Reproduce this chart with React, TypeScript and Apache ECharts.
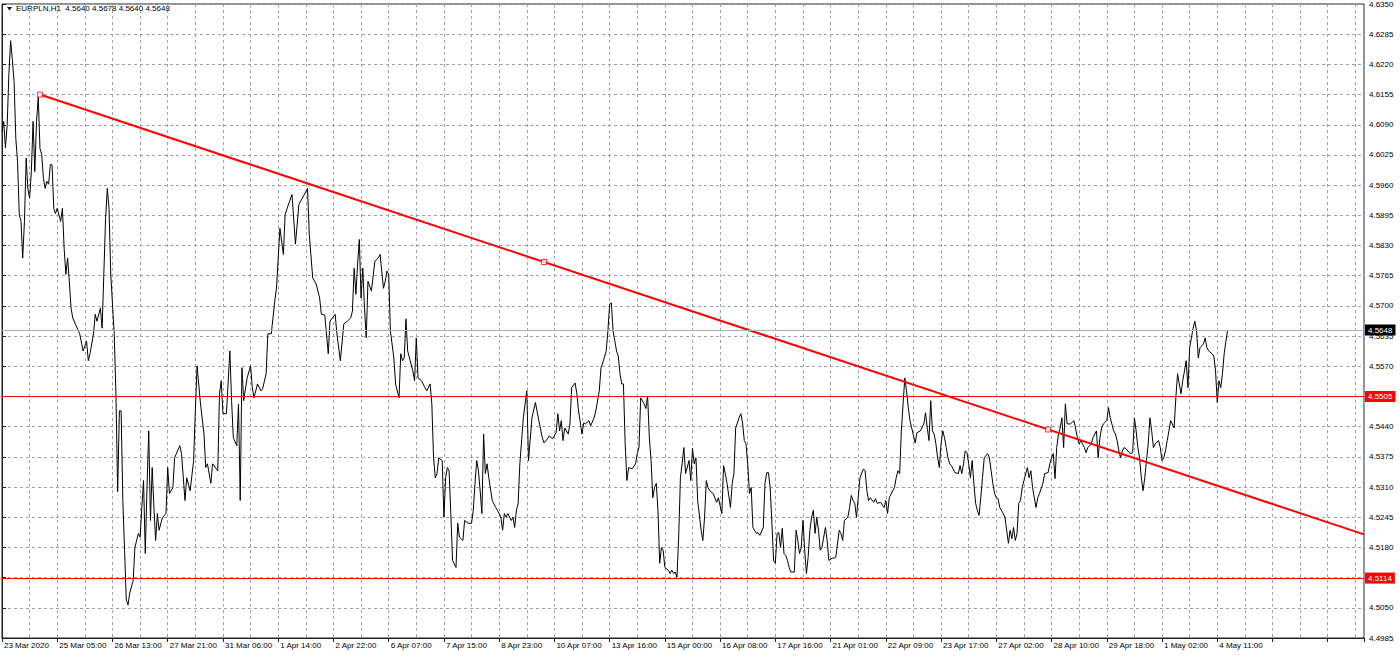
import React, { useEffect, useRef } from "react";
import * as echarts from "echarts";

// ---- data ----
const xLabels = [
  "23 Mar 2020", "25 Mar 05:00", "26 Mar 13:00", "27 Mar 21:00", "31 Mar 06:00", "1 Apr 14:00",
  "2 Apr 22:00", "6 Apr 07:00", "7 Apr 15:00", "8 Apr 23:00", "10 Apr 07:00", "13 Apr 16:00",
  "15 Apr 00:00", "16 Apr 08:00", "17 Apr 16:00", "21 Apr 01:00", "22 Apr 09:00", "23 Apr 17:00",
  "27 Apr 02:00", "28 Apr 10:00", "29 Apr 18:00", "1 May 02:00", "4 May 11:00",
];
const barsPerLabel = 32;
const barsPerGrid = 16;
const xMax = 789;
const yMin = 4.4985;
const yMax = 4.635;
const yStep = 0.0065;

const header = "EURPLN,H1  4.5640 4.5678 4.5640 4.5648";

// [bar index (H1), close]
const closesMarch: [number, number][] = [
  [0,4.6075],[1,4.6097],[2,4.6040],[3,4.6090],[4,4.6200],[5,4.6271],[6,4.6230],[7,4.6183],[8,4.6061],[9,4.6011],
  [10,4.5897],[11,4.5882],[12,4.5803],[13,4.5882],[14,4.6018],[15,4.5952],[16,4.5932],[17,4.5989],[18,4.6097],[19,4.5989],
  [20,4.6097],[21,4.6150],[22,4.6039],[23,4.6026],[24,4.5974],[25,4.5953],[26,4.5968],[27,4.5962],[28,4.6004],[29,4.6004],
  [30,4.5910],[31,4.5899],[32,4.5910],[34,4.5882],[35,4.5910],[36,4.5824],[37,4.5768],[38,4.5803],[39,4.5753],[40,4.5695],
  [41,4.5674],[45,4.5640],[47,4.5603],[49,4.5624],[50,4.5582],[51,4.5597],[53,4.5640],[54,4.5682],[55,4.5667],[57,4.5695],
  [58,4.5652],[60,4.5888],[61,4.5953],[62,4.5910],[63,4.5768],[64,4.5704],[65,4.5640],[66,4.5511],[67,4.5300],[68,4.5474],
  [69,4.5474],[70,4.5281],[71,4.5174],[72,4.5067],[73,4.5056],[74,4.5082],[76,4.5109],[77,4.5180],[79,4.5210],[80,4.5202],
  [81,4.5266],[82,4.5324],[83,4.5167],[84,4.5309],[85,4.5431],[86,4.5238],[87,4.5352],[88,4.5266],[89,4.5195],[90,4.5253],
  [91,4.5217],[93,4.5245],[95,4.5253],[96,4.5352],[97,4.5296],[99,4.5309],[100,4.5373],[103,4.5399],[104,4.5382],[106,4.5281],
  [107,4.5330],[109,4.5302],[111,4.5367],[112,4.5474],[113,4.5571],[115,4.5489],[117,4.5424],[118,4.5352],[119,4.5360],[121,4.5318],
  [122,4.5360],[125,4.5345],[126,4.5511],[127,4.5539],[128,4.5468],[130,4.5468],[132,4.5603],[133,4.5496],[134,4.5416],[136,4.5399],
  [137,4.5489],[138,4.5281],[139,4.5567],[140,4.5496],[142,4.5545],[144,4.5571],[145,4.5524],[146,4.5502],[148,4.5532],[150,4.5517],
  [151,4.5522],[153,4.5554],[154,4.5640],[156,4.5640],[158,4.5710],[159,4.5738],[161,4.5867],[163,4.5811],[164,4.5897],[166,4.5919],
  [168,4.5940],[170,4.5833],[172,4.5919],[174,4.5932],[177,4.5953],[178,4.5854],[180,4.5760],[182,4.5747],[184,4.5717],[185,4.5682],
  [187,4.5680],[189,4.5597],[190,4.5667],[193,4.5682],[194,4.5640],[196,4.5582],[198,4.5661],
];
const closesEarlyApril: [number, number][] = [
  [200,4.5667],[202,4.5674],[203,4.5689],[204,4.5781],[205,4.5725],[206,4.5790],[207,4.5843],[208,4.5717],[209,4.5781],[210,4.5695],
  [211,4.5631],[212,4.5753],[214,4.5732],[216,4.5796],[218,4.5803],[219,4.5811],[221,4.5738],[222,4.5753],[223,4.5775],[224,4.5768],
  [225,4.5646],[227,4.5588],[228,4.5532],[229,4.5517],[230,4.5502],[231,4.5597],[232,4.5582],[233,4.5588],[234,4.5672],[235,4.5603],
  [238,4.5560],[239,4.5539],[240,4.5631],[241,4.5545],[243,4.5539],[245,4.5524],[246,4.5517],[248,4.5532],[249,4.5489],[250,4.5373],
  [251,4.5330],[252,4.5339],[253,4.5373],[255,4.5367],[256,4.5245],[257,4.5330],[258,4.5352],[259,4.5345],[260,4.5253],[261,4.5152],
  [263,4.5137],[264,4.5232],[265,4.5202],[267,4.5195],[268,4.5238],[270,4.5232],[272,4.5232],[273,4.5260],[274,4.5318],[275,4.5367],
  [276,4.5345],[277,4.5302],[278,4.5253],[279,4.5424],[280,4.5339],[281,4.5360],[282,4.5330],[284,4.5281],[286,4.5266],[287,4.5260],
  [289,4.5245],[290,4.5217],[291,4.5253],[292,4.5245],[293,4.5253],[295,4.5238],[296,4.5245],[297,4.5223],[298,4.5260],[299,4.5275],
  [300,4.5360],[302,4.5459],[304,4.5517],[305,4.5367],[307,4.5459],[309,4.5492],[311,4.5453],[313,4.5416],[314,4.5405],[316,4.5414],
  [317,4.5420],[319,4.5414],[321,4.5427],[322,4.5468],[323,4.5431],[324,4.5453],[325,4.5410],[326,4.5437],[328,4.5424],[329,4.5446],
  [330,4.5524],[332,4.5534],[333,4.5511],[334,4.5474],[336,4.5424],[337,4.5448],[338,4.5446],[340,4.5453],[341,4.5442],[343,4.5459],
  [344,4.5474],[346,4.5517],[347,4.5567],[348,4.5577],[350,4.5603],[351,4.5646],[352,4.5704],[353,4.5706],[354,4.5646],[356,4.5603],
  [357,4.5592],[358,4.5554],[359,4.5532],[360,4.5532],[361,4.5403],[362,4.5324],[363,4.5352],[365,4.5349],[367,4.5360],[368,4.5382],
  [369,4.5395],[370,4.5502],[372,4.5489],[373,4.5479],[374,4.5506],[375,4.5416],[376,4.5367],[377,4.5287],[378,4.5309],[379,4.5318],
  [380,4.5260],[381,4.5146],[382,4.5180],[383,4.5174],[384,4.5137],[386,4.5131],[387,4.5124],[388,4.5131],[389,4.5124],[390,4.5127],
  [391,4.5116],[392,4.5202],[393,4.5330],[394,4.5360],[395,4.5395],[396,4.5339],[398,4.5367],[399,4.5324],[400,4.5393],[401,4.5360],
  [402,4.5373],[403,4.5281],[405,4.5217],[406,4.5195],[407,4.5245],[408,4.5324],[409,4.5309],[410,4.5302],[412,4.5296],[414,4.5277],
  [415,4.5287],[417,4.5253],[418,4.5356],[419,4.5339],[420,4.5318],
];
const closesLateApril: [number, number][] = [
  [422,4.5266],[423,4.5318],[424,4.5339],[425,4.5437],[427,4.5459],[428,4.5468],[429,4.5448],[430,4.5410],[431,4.5403],[432,4.5360],
  [433,4.5296],[434,4.5309],[435,4.5223],[437,4.5210],[438,4.5212],[439,4.5206],[441,4.5223],[442,4.5318],[443,4.5341],[444,4.5341],
  [445,4.5309],[446,4.5232],[447,4.5152],[448,4.5146],[449,4.5210],[450,4.5212],[451,4.5180],[452,4.5221],[453,4.5167],[454,4.5163],
  [455,4.5152],[456,4.5137],[457,4.5127],[459,4.5127],[460,4.5217],[461,4.5195],[462,4.5167],[463,4.5180],[464,4.5238],[465,4.5174],
  [466,4.5124],[467,4.5159],[468,4.5217],[469,4.5245],[470,4.5260],[471,4.5210],[472,4.5245],[473,4.5217],[474,4.5174],[475,4.5180],
  [476,4.5202],[477,4.5223],[478,4.5195],[479,4.5152],[481,4.5157],[482,4.5157],[483,4.5159],[485,4.5217],[486,4.5210],[487,4.5195],
  [488,4.5238],[490,4.5245],[491,4.5266],[492,4.5292],[493,4.5281],[494,4.5275],[495,4.5245],[496,4.5287],[497,4.5330],[499,4.5349],
  [500,4.5345],[501,4.5302],[502,4.5281],[503,4.5287],[505,4.5277],[506,4.5285],[507,4.5275],[509,4.5277],[511,4.5266],[512,4.5281],
  [513,4.5253],[514,4.5287],[516,4.5302],[517,4.5309],[518,4.5330],[519,4.5345],[520,4.5339],[521,4.5431],[522,4.5489],[523,4.5545],
  [524,4.5517],[525,4.5481],[526,4.5453],[527,4.5437],[529,4.5405],[530,4.5427],[532,4.5431],[534,4.5446],[535,4.5470],[536,4.5437],
  [537,4.5410],[538,4.5496],[539,4.5431],[540,4.5424],[541,4.5403],[542,4.5373],[543,4.5352],[544,4.5403],[545,4.5431],[546,4.5416],
  [547,4.5395],[548,4.5373],[549,4.5360],[550,4.5356],[551,4.5349],[552,4.5341],[554,4.5339],[555,4.5356],[556,4.5339],[557,4.5360],
  [558,4.5388],[559,4.5384],[560,4.5360],[561,4.5330],[562,4.5367],[563,4.5318],[564,4.5275],[565,4.5260],[566,4.5249],[567,4.5287],
  [568,4.5330],[569,4.5373],[571,4.5382],[572,4.5373],[573,4.5345],[574,4.5318],[575,4.5296],[576,4.5287],[577,4.5285],[578,4.5266],
  [580,4.5253],[581,4.5245],[582,4.5217],[583,4.5189],[584,4.5217],[585,4.5199],[586,4.5223],[587,4.5195],[588,4.5210],[589,4.5275],
  [590,4.5281],[591,4.5309],[592,4.5324],[594,4.5352],[595,4.5330],[596,4.5345],[597,4.5309],[598,4.5287],[599,4.5266],[600,4.5287],
  [601,4.5296],[603,4.5318],[604,4.5339],[606,4.5341],[607,4.5360],[608,4.5373],[609,4.5382],[610,4.5328],
];
const closesMay: [number, number][] = [
  [611,4.5395],[612,4.5424],[613,4.5437],[614,4.5459],[615,4.5395],[616,4.5489],[617,4.5446],[619,4.5446],[621,4.5453],[623,4.5416],
  [624,4.5403],[625,4.5410],[627,4.5395],[628,4.5384],[629,4.5395],[631,4.5403],[632,4.5416],[634,4.5431],[635,4.5373],[636,4.5416],
  [637,4.5437],[638,4.5446],[640,4.5453],[641,4.5481],[642,4.5459],[644,4.5431],[645,4.5424],[646,4.5410],[647,4.5388],[648,4.5373],
  [649,4.5388],[650,4.5395],[651,4.5393],[653,4.5384],[654,4.5382],[655,4.5384],[656,4.5459],[657,4.5431],[658,4.5395],[659,4.5373],
  [660,4.5330],[661,4.5302],[662,4.5330],[663,4.5367],[664,4.5403],[665,4.5459],[666,4.5431],[667,4.5395],[668,4.5403],[670,4.5410],
  [671,4.5395],[672,4.5367],[673,4.5373],[674,4.5388],[675,4.5410],[676,4.5431],[677,4.5453],[678,4.5446],[679,4.5437],[680,4.5502],
  [681,4.5554],[682,4.5532],[683,4.5511],[684,4.5539],[685,4.5560],[686,4.5582],[687,4.5524],[688,4.5610],[689,4.5631],[690,4.5652],
  [691,4.5667],[692,4.5646],[693,4.5588],[694,4.5610],[696,4.5618],[697,4.5631],[698,4.5610],[699,4.5603],[701,4.5597],[702,4.5592],
  [703,4.5560],[704,4.5492],[705,4.5539],[706,4.5524],[707,4.5554],[708,4.5597],[709,4.5624],[710,4.5648],
];

const lastPrice = 4.5648;
const resistanceLevel = 4.5505;
const supportLevel = 4.5114;
const trendStart: [number, number] = [22, 4.6155];
const trendEnd: [number, number] = [606, 4.5434];

// ---- style ----
const FONT = "'Liberation Sans', Arial, sans-serif";
const GRID_COLOR = "#97a3b3";
const RED = "#ff0000";

export default function App() {
  const ref = useRef<HTMLDivElement>(null);

  useEffect(() => {
    if (!ref.current) return;
    const chart = echarts.init(ref.current, null, { renderer: "svg" });

    const prices = [...closesMarch, ...closesEarlyApril, ...closesLateApril, ...closesMay];
    const slope = (trendEnd[1] - trendStart[1]) / (trendEnd[0] - trendStart[0]);
    const trendData = [trendStart, [xMax, trendStart[1] + slope * (xMax - trendStart[0])]];
    const mid = [(trendStart[0] + trendEnd[0]) / 2, (trendStart[1] + trendEnd[1]) / 2];

    const levelLabel = (bg: string) => ({ backgroundColor: bg });

    chart.setOption({
      animation: false,
      backgroundColor: "#ffffff",
      textStyle: { fontFamily: FONT },
      grid: {
        left: 2,
        right: 36,
        top: 2,
        bottom: 21,
        show: true,
        borderColor: "#222",
        borderWidth: 1,
        backgroundColor: "#fff",
      },
      xAxis: [
        {
          type: "value",
          min: 0,
          max: xMax,
          interval: barsPerLabel,
          position: "bottom",
          axisLine: { show: true, lineStyle: { color: "#222", width: 1 } },
          axisTick: { show: true, length: 4, lineStyle: { color: "#222" } },
          splitLine: { show: false },
          axisLabel: {
            show: true,
            fontSize: 8,
            color: "#000",
            fontFamily: FONT,
            align: "left",
            margin: 3,
            padding: [0, 0, 0, 2],
            formatter: (v: number) => {
              const k = Math.round(v / barsPerLabel);
              if (Math.abs(v - k * barsPerLabel) > 1e-6) return "";
              return k < xLabels.length ? xLabels[k] : "";
            },
          },
        },
        {
          type: "value",
          min: 0,
          max: xMax,
          interval: barsPerGrid,
          axisLine: { show: false },
          axisTick: { show: false },
          axisLabel: { show: false },
          splitLine: { show: true, lineStyle: { color: GRID_COLOR, width: 1, type: [3, 3] } },
        },
      ],
      yAxis: {
        type: "value",
        position: "right",
        min: yMin,
        max: yMax,
        interval: yStep,
        axisLine: { show: true, lineStyle: { color: "#222", width: 1 } },
        axisTick: { show: true, length: 4, lineStyle: { color: "#222" } },
        splitLine: { show: true, lineStyle: { color: GRID_COLOR, width: 1, type: [3, 3] } },
        axisLabel: {
          fontSize: 8,
          color: "#000",
          fontFamily: FONT,
          margin: 5,
          formatter: (v: number) => v.toFixed(4),
        },
      },
      graphic: [
        {
          type: "polygon",
          shape: { points: [[7, 7], [12, 7], [9.5, 10.5]] },
          style: { fill: "#000" },
          z: 100,
        },
        {
          type: "text",
          left: 16,
          top: 4,
          z: 100,
          style: { text: header, fontSize: 8, fill: "#000", fontFamily: FONT },
        },
      ],
      series: [
        {
          type: "line",
          xAxisIndex: 0,
          data: prices,
          showSymbol: false,
          symbol: "none",
          lineStyle: { color: "#000", width: 1 },
          z: 3,
          markLine: {
            silent: true,
            symbol: "none",
            precision: 4,
            animation: false,
            label: {
              show: true,
              position: "end",
              distance: 1,
              color: "#fff",
              fontSize: 8,
              fontFamily: FONT,
              padding: [2, 3, 1, 3],
              formatter: (p: any) => Number(p.value).toFixed(4),
            },
            data: [
              { yAxis: lastPrice, lineStyle: { color: "#a8b3bf", width: 1, type: "solid" }, label: levelLabel("#000") },
              { yAxis: resistanceLevel, lineStyle: { color: RED, width: 1, type: "solid" }, label: levelLabel(RED) },
              { yAxis: supportLevel, lineStyle: { color: RED, width: 1, type: "solid" }, label: levelLabel(RED) },
            ],
          },
        },
        {
          type: "line",
          xAxisIndex: 0,
          data: trendData,
          showSymbol: false,
          symbol: "none",
          lineStyle: { color: RED, width: 2 },
          z: 4,
        },
        {
          type: "scatter",
          xAxisIndex: 0,
          data: [trendStart, mid, trendEnd],
          symbol: "rect",
          symbolSize: 5,
          itemStyle: { color: "#fff", borderColor: RED, borderWidth: 1 },
          z: 5,
        },
      ],
    });

    return () => chart.dispose();
  }, []);

  return (
    <div
      ref={ref}
      style={{ position: "absolute", left: 0, top: 0, width: 1400, height: 659 }}
    />
  );
}
